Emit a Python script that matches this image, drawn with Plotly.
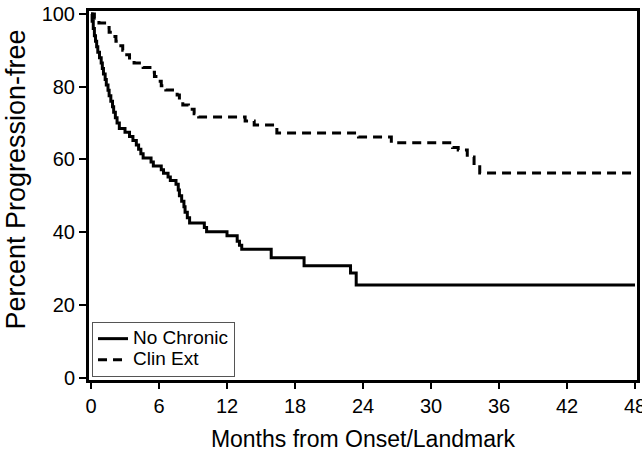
import plotly.graph_objects as go

# Data (Kaplan-Meier style step curves)
no_chronic_months = [0, 0.1, 0.2, 0.3, 0.4, 0.5, 0.6, 0.75, 0.9, 1.0,
                     1.1, 1.25, 1.35, 1.5, 1.6, 1.75, 1.9, 2.0, 2.15, 2.3,
                     2.5, 3.0, 3.4, 3.7, 4.0, 4.2, 4.4, 4.6, 5.3, 5.5,
                     6.2, 6.4, 6.8, 7.0, 7.5, 7.7, 7.8, 8.0, 8.2, 8.3,
                     8.5, 8.7, 10.0, 10.2, 12.0, 12.9, 13.1, 13.3, 15.9, 18.8,
                     22.9, 23.4, 48]
no_chronic_pct = [100, 98, 96, 94, 92.5, 91, 89.5, 88, 86.5, 85,
                  83.5, 82, 80.5, 79, 77.5, 76, 74.5, 73, 71.5, 70,
                  68.5, 67.5, 66.3, 65.2, 64, 62.8, 61.6, 60.4, 59.3, 58.2,
                  57.2, 56.2, 55.2, 54.2, 53.2, 51.6, 50, 48.5, 47, 45.5,
                  44, 42.5, 41.3, 40.1, 39.0, 37.5, 36.4, 35.3, 33.0, 30.8,
                  28.8, 25.5, 25.5]

clin_ext_months = [0, 0.3, 0.7, 1.2, 1.6, 1.9, 2.2, 2.5, 2.8, 3.0,
                   3.4, 3.8, 4.6, 5.2, 5.6, 5.9, 6.2, 6.6, 7.6, 7.8,
                   8.1, 8.6, 9.1, 9.5, 13.6, 14.4, 16.4, 23.6, 26.5, 31.9,
                   32.4, 33.2, 33.8, 34.3, 48]
clin_ext_pct = [100, 98.8, 97.5, 96.3, 95, 93.8, 92.5, 91.3, 90, 88.8,
                87.5, 86.5, 85.3, 84, 82.8, 81.5, 80.3, 79.1, 77.7, 76.3,
                75, 73.8, 72.6, 71.7, 70.6, 69.5, 67.3, 66.2, 64.6, 63.3,
                62.6, 60.7, 58.5, 56.3, 56.3]

series_names = ["No Chronic", "Clin Ext"]
x_ticks = [0, 6, 12, 18, 24, 30, 36, 42, 48]
y_ticks = [0, 20, 40, 60, 80, 100]
x_title = "Months from Onset/Landmark"
y_title = "Percent Progression-free"

FONT = "Liberation Sans, Arial, sans-serif"

def legend_label(s):
    return "<span style='font-size:19px'>" + s + "</span>"

fig = go.Figure()
fig.add_trace(go.Scatter(x=no_chronic_months, y=no_chronic_pct, mode="lines",
                         line=dict(shape="hv", color="black", width=3),
                         name=legend_label(series_names[0])))
fig.add_trace(go.Scatter(x=clin_ext_months, y=clin_ext_pct, mode="lines",
                         line=dict(shape="hv", color="black", width=3, dash="9px,6px"),
                         name=legend_label(series_names[1])))

fig.update_layout(
    width=642, height=452,
    margin=dict(l=89, r=5, t=11, b=72, autoexpand=False),
    paper_bgcolor="white", plot_bgcolor="white",
    font=dict(family=FONT, color="black"),
    showlegend=True,
    legend=dict(x=0.0055, y=0.008, xanchor="left", yanchor="bottom",
                bgcolor="white", bordercolor="#555", borderwidth=1,
                font=dict(size=14, family=FONT), tracegroupgap=0,
                itemwidth=30),
    xaxis=dict(range=[-0.176, 48.176], tickvals=x_ticks, ticktext=[str(v) for v in x_ticks],
               showgrid=False, zeroline=False, showline=True, linecolor="black",
               linewidth=3, mirror=True, ticks="outside", ticklen=6, tickwidth=2,
               tickcolor="black", tickfont=dict(size=20, family=FONT),
               ticklabeloverflow="allow", automargin=False,
               title=dict(text=x_title, font=dict(size=23, family=FONT),
                          standoff=17)),
    yaxis=dict(range=[-0.63, 100.82], tickvals=y_ticks, ticktext=[str(v) for v in y_ticks],
               showgrid=False, zeroline=False, showline=True, linecolor="black",
               linewidth=3, mirror=True, ticks="outside", ticklen=7, tickwidth=2,
               tickcolor="black", tickfont=dict(size=20, family=FONT),
               ticklabeloverflow="allow", automargin=False),
    annotations=[dict(text=y_title, xref="paper", yref="paper", x=-0.1323, y=0.5447,
                      xanchor="center", yanchor="middle", textangle=-90, showarrow=False,
                      font=dict(size=27, family=FONT, color="black"))],
)

fig.write_html("out.html", config={"displayModeBar": False},
               post_script="document.body.style.margin='0';")
